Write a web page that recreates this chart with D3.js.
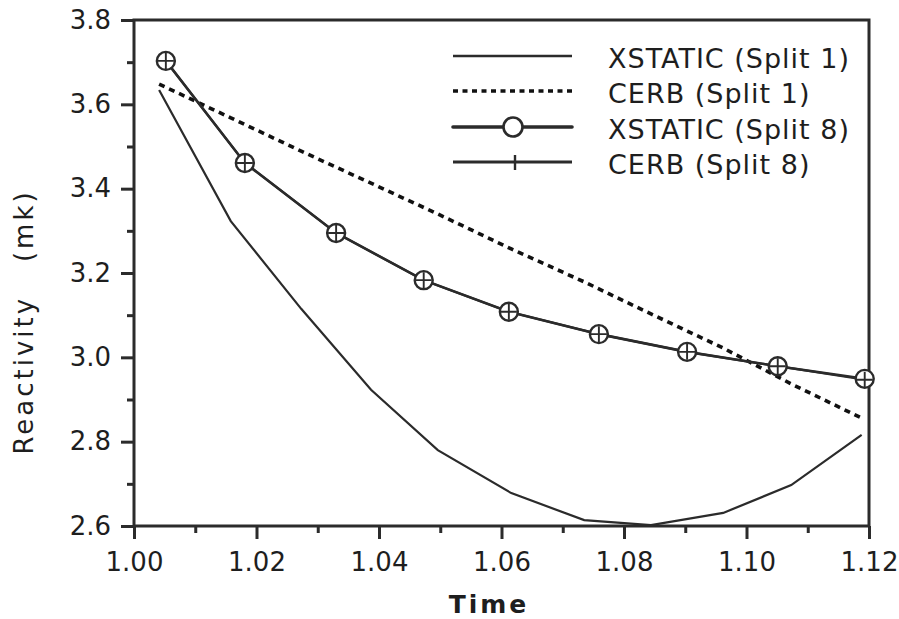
<!DOCTYPE html>
<html>
<head>
<meta charset="utf-8">
<script src="https://cdn.jsdelivr.net/npm/d3@7"></script>
<style>
  html, body { margin: 0; padding: 0; background: #fff; }
  svg { display: block; }
  text { font-family: "DejaVu Sans", sans-serif; fill: #1e1e1e; }
</style>
</head>
<body>
<svg id="chart" width="899" height="619"></svg>
<script>
// Reactivity vs. time for the two codes, split 1 and split 8 runs
const xTickValues = [1.00, 1.02, 1.04, 1.06, 1.08, 1.10, 1.12];
const xMinorValues = [1.01, 1.03, 1.05, 1.07, 1.09, 1.11];
const yTickValues = [2.6, 2.8, 3.0, 3.2, 3.4, 3.6, 3.8];
const yMinorValues = [2.7, 2.9, 3.1, 3.3, 3.5, 3.7];

const timeSplit1 = [1.0041, 1.0158, 1.0273, 1.0387, 1.0496, 1.0616, 1.0735, 1.0844, 1.0962, 1.1073, 1.1188];
const xstaticSplit1 = [3.634, 3.323, 3.115, 2.923, 2.780, 2.678, 2.614, 2.602, 2.631, 2.697, 2.816];
const cerbSplit1 = [3.648, 3.568, 3.489, 3.413, 3.340, 3.257, 3.179, 3.103, 3.022, 2.937, 2.856];

const timeSplit8 = [1.0052, 1.0181, 1.0330, 1.0473, 1.0612, 1.0759, 1.0903, 1.1051, 1.1193];
const xstaticSplit8 = [3.703, 3.461, 3.295, 3.183, 3.108, 3.055, 3.013, 2.979, 2.949];
const cerbSplit8 = [3.703, 3.461, 3.295, 3.183, 3.108, 3.055, 3.013, 2.979, 2.947];

const legendLabels = ["XSTATIC (Split 1)", "CERB (Split 1)", "XSTATIC (Split 8)", "CERB (Split 8)"];

const ink = "#2b2b2b";
const svg = d3.select("#chart");
const plot = { left: 134, right: 869, top: 20, bottom: 526 };

const x = d3.scaleLinear().domain([1.00, 1.12]).range([plot.left, plot.right]);
const y = d3.scaleLinear().domain([2.6, 3.8]).range([plot.bottom, plot.top]);

// ----- axes -----
function styleAxis(g) {
  g.selectAll(".domain").remove();
  g.selectAll(".tick line").attr("stroke", ink).attr("stroke-width", 3);
}

svg.append("g")
  .attr("transform", `translate(0,${plot.bottom})`)
  .call(d3.axisBottom(x).tickValues(xMinorValues).tickSize(7).tickFormat(""))
  .call(styleAxis);

const xAxis = svg.append("g")
  .attr("transform", `translate(0,${plot.bottom})`)
  .call(d3.axisBottom(x).tickValues(xTickValues).tickSize(13).tickPadding(14).tickFormat(d3.format(".2f")))
  .call(styleAxis);
xAxis.selectAll("text")
  .attr("font-size", 26).attr("fill", "#1e1e1e").attr("font-family", "DejaVu Sans, sans-serif");

svg.append("g")
  .attr("transform", `translate(${plot.left},0)`)
  .call(d3.axisLeft(y).tickValues(yMinorValues).tickSize(7).tickFormat(""))
  .call(styleAxis);

const yAxis = svg.append("g")
  .attr("transform", `translate(${plot.left},0)`)
  .call(d3.axisLeft(y).tickValues(yTickValues).tickSize(13).tickPadding(10).tickFormat(d3.format(".1f")))
  .call(styleAxis);
yAxis.selectAll("text")
  .attr("font-size", 26).attr("fill", "#1e1e1e").attr("font-family", "DejaVu Sans, sans-serif");

// frame
svg.append("rect")
  .attr("x", plot.left).attr("y", plot.top)
  .attr("width", plot.right - plot.left).attr("height", plot.bottom - plot.top)
  .attr("fill", "none").attr("stroke", ink).attr("stroke-width", 3);

// ----- axis titles -----
svg.append("text")
  .attr("x", 489).attr("y", 613)
  .attr("text-anchor", "middle")
  .attr("font-size", 25).attr("font-weight", "bold")
  .attr("letter-spacing", 3)
  .text("Time");

svg.append("text")
  .attr("transform", "translate(33,322) rotate(-90)")
  .attr("text-anchor", "middle")
  .attr("font-size", 26)
  .attr("letter-spacing", 3)
  .style("white-space", "pre")
  .text("Reactivity   (mk)");

// ----- series -----
const line = d3.line().x(d => x(d[0])).y(d => y(d[1]));
const zip = (a, b) => a.map((v, i) => [v, b[i]]);

const s1x = zip(timeSplit1, xstaticSplit1);
const s1c = zip(timeSplit1, cerbSplit1);
const s8x = zip(timeSplit8, xstaticSplit8);
const s8c = zip(timeSplit8, cerbSplit8);

svg.append("path").datum(s1x).attr("d", line)
  .attr("fill", "none").attr("stroke", ink).attr("stroke-width", 2.2);

svg.append("path").datum(s1c).attr("d", line)
  .attr("fill", "none").attr("stroke", "#111").attr("stroke-width", 3.6)
  .attr("stroke-dasharray", "6,5");

svg.append("path").datum(s8x).attr("d", line)
  .attr("fill", "none").attr("stroke", ink).attr("stroke-width", 2.6);

svg.append("path").datum(s8c).attr("d", line)
  .attr("fill", "none").attr("stroke", ink).attr("stroke-width", 2.2);

const circleR = 9;
svg.append("g").selectAll("circle").data(s8x).join("circle")
  .attr("cx", d => x(d[0])).attr("cy", d => y(d[1])).attr("r", circleR)
  .attr("fill", "#fff").attr("stroke", ink).attr("stroke-width", 2.4);

const plusArm = 8;
svg.append("g").selectAll("path").data(s8c).join("path")
  .attr("d", d => {
    const cx = x(d[0]), cy = y(d[1]);
    return `M${cx - plusArm},${cy}H${cx + plusArm}M${cx},${cy - plusArm}V${cy + plusArm}`;
  })
  .attr("fill", "none").attr("stroke", ink).attr("stroke-width", 1.9);

// ----- legend -----
const legend = svg.append("g");
const lx0 = 453, lx1 = 572, rowY = [56, 91, 127, 162];

legend.append("line").attr("x1", lx0).attr("x2", lx1).attr("y1", rowY[0]).attr("y2", rowY[0])
  .attr("stroke", ink).attr("stroke-width", 2.6);
legend.append("line").attr("x1", lx0).attr("x2", lx1).attr("y1", rowY[1]).attr("y2", rowY[1])
  .attr("stroke", "#111").attr("stroke-width", 3.6).attr("stroke-dasharray", "5,4.5");
legend.append("line").attr("x1", lx0).attr("x2", lx1).attr("y1", rowY[2]).attr("y2", rowY[2])
  .attr("stroke", ink).attr("stroke-width", 3.6).attr("stroke-linecap", "round");
legend.append("circle").attr("cx", 513).attr("cy", rowY[2]).attr("r", 9.5)
  .attr("fill", "#fff").attr("stroke", ink).attr("stroke-width", 2.6);
legend.append("line").attr("x1", lx0).attr("x2", lx1).attr("y1", rowY[3]).attr("y2", rowY[3])
  .attr("stroke", ink).attr("stroke-width", 2.8);
legend.append("path")
  .attr("d", `M515,${rowY[3] - 7}V${rowY[3] + 8}`)
  .attr("stroke", ink).attr("stroke-width", 2.4);

legend.selectAll("text").data(legendLabels).join("text")
  .attr("x", 608).attr("y", (d, i) => rowY[i] + 12)
  .attr("font-size", 27)
  .attr("letter-spacing", 1)
  .text(d => d);
</script>
</body>
</html>
